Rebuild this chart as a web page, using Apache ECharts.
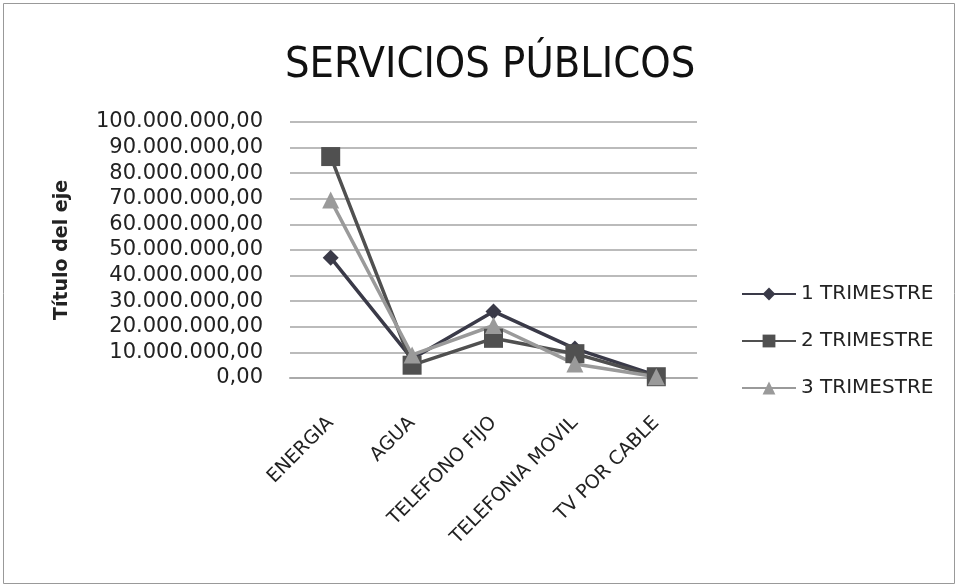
<!DOCTYPE html>
<html>
<head>
<meta charset="utf-8">
<script src="https://cdn.jsdelivr.net/npm/echarts@6/dist/echarts.min.js"></script>
<style>
    html, body { margin: 0; padding: 0; background: #fff; }
    #chart { width: 959px; height: 588px; }
</style>
</head>
<body>
<div id="chart"></div>
<script>
// datos
const categorias = ['ENERGIA', 'AGUA', 'TELEFONO FIJO', 'TELEFONIA MOVIL', 'TV POR CABLE'];
const trimestre1 = [47000000, 7500000, 26000000, 11500000, 1000000];
const trimestre2 = [86500000, 5000000, 15500000, 9500000, 500000];
const trimestre3 = [69500000, 9000000, 20500000, 5500000, 500000];
const nombres = ['1 TRIMESTRE', '2 TRIMESTRE', '3 TRIMESTRE'];

const fuenteTitulo = "'Liberation Sans Narrow', 'DejaVu Sans Condensed', sans-serif";
const fuente = "'DejaVu Sans', sans-serif";

function formato(v) {
    // 10000000 -> 10.000.000,00
    let s = Math.round(v).toString().replace(/\B(?=(\d{3})+(?!\d))/g, '.');
    return s + ',00';
}

let chart = echarts.init(document.getElementById('chart'));
chart.setOption({
    backgroundColor: '#fff',
    animation: false,
    title: {
        text: 'SERVICIOS PÚBLICOS',
        left: 280,
        top: 39,
        textStyle: {
            fontFamily: fuenteTitulo,
            fontSize: 43,
            fontWeight: 'normal',
            color: '#111'
        }
    },
    graphic: [{
        type: 'rect',
        shape: {x: 3.5, y: 3.5, width: 951, height: 580},
        style: {fill: 'none', stroke: '#999', lineWidth: 1},
        silent: true
    }],
    legend: {
        orient: 'vertical',
        left: 736,
        top: 279,
        itemGap: 27,
        itemWidth: 54,
        itemHeight: 16,
        data: nombres,
        textStyle: {
            fontFamily: fuente,
            fontSize: 20,
            color: '#222'
        }
    },
    grid: {
        left: 290,
        right: 262,
        top: 122,
        bottom: 210
    },
    xAxis: {
        type: 'category',
        data: categorias,
        boundaryGap: true,
        axisLine: {show: true, lineStyle: {color: '#aaa', width: 2}},
        axisTick: {show: false},
        axisLabel: {
            rotate: 45,
            margin: 42,
            fontFamily: fuente,
            fontSize: 19,
            color: '#222'
        }
    },
    yAxis: {
        type: 'value',
        min: 0,
        max: 100000000,
        interval: 10000000,
        name: 'Título del eje',
        nameLocation: 'middle',
        nameGap: 218,
        nameTextStyle: {
            fontFamily: fuente,
            fontSize: 19,
            fontWeight: 'bold',
            color: '#222'
        },
        axisLine: {show: false},
        axisTick: {show: false},
        axisLabel: {
            margin: 27,
            fontFamily: fuente,
            fontSize: 21,
            color: '#222',
            formatter: formato
        },
        splitLine: {lineStyle: {color: '#bbb', width: 2}}
    },
    series: [
        {
            name: nombres[0],
            type: 'line',
            data: trimestre1,
            symbol: 'diamond',
            symbolSize: 16,
            itemStyle: {color: '#3a3a48'},
            lineStyle: {width: 3.5, color: '#3a3a48'}
        },
        {
            name: nombres[1],
            type: 'line',
            data: trimestre2,
            symbol: 'rect',
            symbolSize: 19,
            itemStyle: {color: '#505050'},
            lineStyle: {width: 3.5, color: '#505050'}
        },
        {
            name: nombres[2],
            type: 'line',
            data: trimestre3,
            symbol: 'triangle',
            symbolSize: 17,
            itemStyle: {color: '#9a9a9a'},
            lineStyle: {width: 3.5, color: '#9a9a9a'}
        }
    ]
});
</script>
</body>
</html>
